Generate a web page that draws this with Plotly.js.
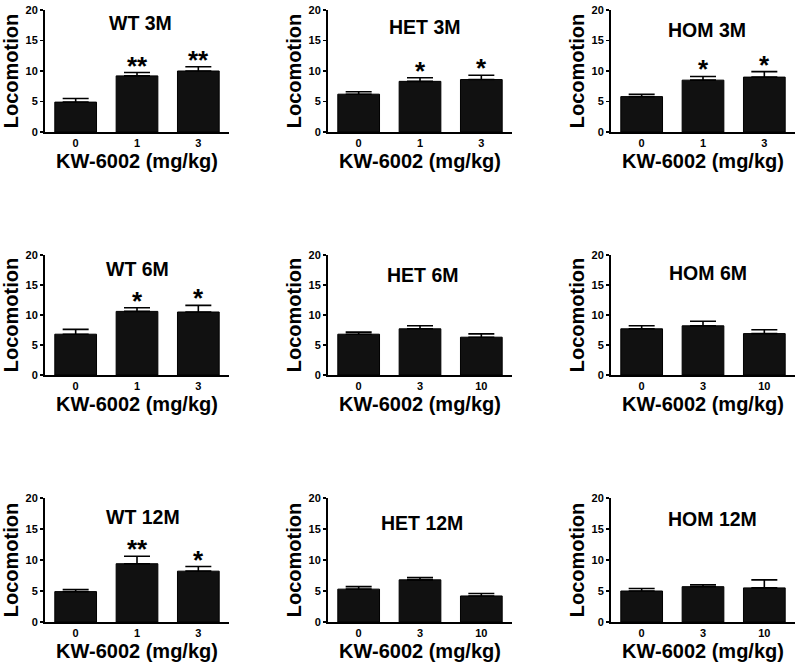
<!DOCTYPE html>
<html>
<head>
<meta charset="utf-8">
<script src="https://cdn.plot.ly/plotly-3.0.1.min.js"></script>
<style>html,body{margin:0;padding:0;background:#fff;}#chart{width:800px;height:663px;}</style>
</head>
<body>
<div id="chart"></div>
<script>
// ---- data ----
const dosesA = ['0', '1', '3'];
const dosesB = ['0', '3', '10'];
const panelTitles = ['WT 3M', 'HET 3M', 'HOM 3M', 'WT 6M', 'HET 6M', 'HOM 6M', 'WT 12M', 'HET 12M', 'HOM 12M'];

const wt3mMean = [4.9, 9.2, 10.0];   const wt3mSem = [0.6, 0.55, 0.7];   const wt3mSig = ['', '**', '**'];
const het3mMean = [6.2, 8.3, 8.6];   const het3mSem = [0.4, 0.6, 0.7];   const het3mSig = ['', '*', '*'];
const hom3mMean = [5.8, 8.5, 9.0];   const hom3mSem = [0.4, 0.6, 0.9];   const hom3mSig = ['', '*', '*'];
const wt6mMean = [6.8, 10.6, 10.5];  const wt6mSem = [0.8, 0.6, 1.1];    const wt6mSig = ['', '*', '*'];
const het6mMean = [6.8, 7.7, 6.3];   const het6mSem = [0.35, 0.5, 0.55]; const het6mSig = ['', '', ''];
const hom6mMean = [7.7, 8.2, 6.9];   const hom6mSem = [0.5, 0.75, 0.65]; const hom6mSig = ['', '', ''];
const wt12mMean = [4.9, 9.4, 8.2];   const wt12mSem = [0.35, 1.2, 0.75]; const wt12mSig = ['', '**', '*'];
const het12mMean = [5.3, 6.8, 4.2];  const het12mSem = [0.4, 0.35, 0.4]; const het12mSig = ['', '', ''];
const hom12mMean = [5.0, 5.7, 5.5];  const hom12mSem = [0.4, 0.3, 1.3];  const hom12mSig = ['', '', ''];

const yTicks = [0, 5, 10, 15, 20];
const xTitle = 'KW-6002 (mg/kg)';
const yTitle = 'Locomotion';

// ---- assembly ----
const panels = [
  [dosesA, wt3mMean, wt3mSem, wt3mSig], [dosesA, het3mMean, het3mSem, het3mSig], [dosesA, hom3mMean, hom3mSem, hom3mSig],
  [dosesA, wt6mMean, wt6mSem, wt6mSig], [dosesB, het6mMean, het6mSem, het6mSig], [dosesB, hom6mMean, hom6mSem, hom6mSig],
  [dosesA, wt12mMean, wt12mSem, wt12mSig], [dosesB, het12mMean, het12mSem, het12mSig], [dosesB, hom12mMean, hom12mSem, hom12mSig]
];

// layout geometry (pixels)
const W = 800, H = 663;
const colPx = [[45, 229], [328, 512], [611, 795]];
const rowPx = [[10, 132], [255, 375], [498, 622]];
const titlePx = [[140, 23], [425, 27], [707, 30], [137, 269], [423, 275], [708, 273], [143, 517], [422, 523], [712, 519]];

const FONT = 'Liberation Sans, Arial, sans-serif';
const traces = [];
const layout = {
  width: W, height: H,
  margin: {l: 0, r: 0, t: 0, b: 0},
  paper_bgcolor: '#fff', plot_bgcolor: '#fff',
  showlegend: false,
  font: {family: FONT, color: '#000'},
  annotations: []
};

panels.forEach((p, i) => {
  const [doses, mean, sem, sig] = p;
  const r = Math.floor(i / 3), c = i % 3;
  const sfx = i === 0 ? '' : String(i + 1);
  const xa = 'x' + sfx, ya = 'y' + sfx;
  traces.push({
    type: 'bar', x: doses, y: mean, xaxis: xa, yaxis: ya,
    width: 0.68,
    marker: {color: '#111', line: {color: '#000', width: 1}},
    error_y: {type: 'data', symmetric: false, array: sem, arrayminus: sem.map(() => 0),
      color: '#000', thickness: 1.6, width: 13},
    hoverinfo: 'skip'
  });
  layout['xaxis' + sfx] = {
    domain: [colPx[c][0] / W, colPx[c][1] / W], anchor: ya,
    type: 'category', range: [-0.5, 2.5],
    showline: true, linecolor: '#000', linewidth: 2, ticks: '',
    showgrid: false, zeroline: false, automargin: false,
    tickfont: {family: FONT, size: 11, weight: 'bold', color: '#000'},
    title: {text: xTitle, standoff: 6, font: {family: FONT, size: 20, weight: 'bold', color: '#000'}}
  };
  layout['yaxis' + sfx] = {
    domain: [1 - rowPx[r][1] / H, 1 - rowPx[r][0] / H], anchor: xa,
    range: [0, 20], tickvals: yTicks, ticktext: yTicks.map(String),
    showline: true, linecolor: '#000', linewidth: 2,
    ticks: 'outside', ticklen: 3, tickwidth: 1.5, tickcolor: '#000',
    showgrid: false, zeroline: false, automargin: false,
    tickfont: {family: FONT, size: 11, weight: 'bold', color: '#000'},
    title: {text: yTitle, standoff: 2, font: {family: FONT, size: 20, weight: 'bold', color: '#000'}}
  };
  layout.annotations.push({
    xref: 'paper', yref: 'paper', x: titlePx[i][0] / W, y: 1 - titlePx[i][1] / H,
    xanchor: 'center', yanchor: 'middle', showarrow: false,
    text: panelTitles[i], font: {family: FONT, size: 19.5, weight: 'bold', color: '#000'}
  });
  sig.forEach((s, k) => {
    if (!s) return;
    layout.annotations.push({
      xref: xa, yref: ya, x: k, y: mean[k] + sem[k],
      xanchor: 'center', yanchor: 'bottom', yshift: -10, showarrow: false,
      text: s, font: {family: FONT, size: 26, weight: 'bold', color: '#000'}
    });
  });
});

Plotly.newPlot('chart', traces, layout, {staticPlot: true, displayModeBar: false});
</script>
</body>
</html>
